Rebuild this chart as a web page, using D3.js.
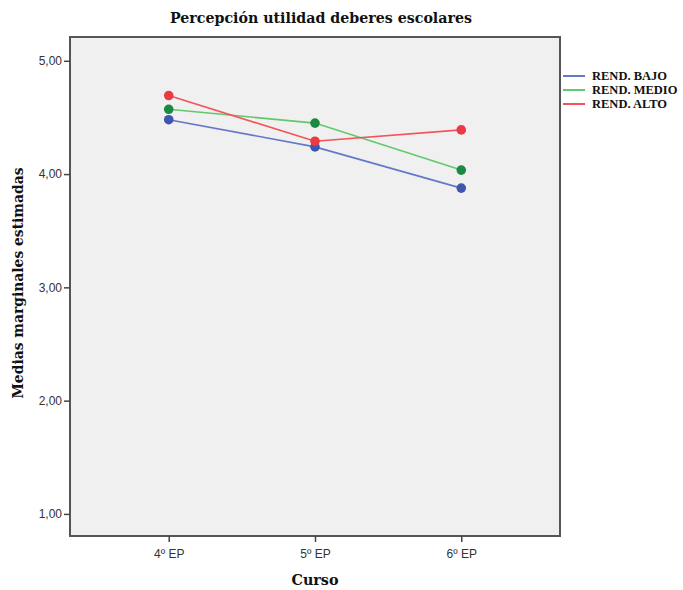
<!DOCTYPE html>
<html><head><meta charset="utf-8">
<script src="https://cdn.jsdelivr.net/npm/d3@7"></script>
<style>body{margin:0;background:#fff;}svg{display:block;}</style>
</head><body>
<svg id="c" width="683" height="590"></svg>
<script>
const categories = ["4º EP", "5º EP", "6º EP"];
const seriesNames = ["REND. BAJO", "REND. MEDIO", "REND. ALTO"];
const bajo = [4.48, 4.24, 3.876];
const medio = [4.572, 4.45, 4.035];
const alto = [4.693, 4.29, 4.39];
const yTicks = [1, 2, 3, 4, 5];
const title = "Percepción utilidad deberes escolares";
const xTitle = "Curso";
const yTitle = "Medias marginales estimadas";

const series = [
  {name: seriesNames[0], values: bajo, line: "#6478c8", dot: "#3f56b0"},
  {name: seriesNames[1], values: medio, line: "#62c86c", dot: "#1b8a40"},
  {name: seriesNames[2], values: alto, line: "#f4535b", dot: "#ec3a43"}
];

const svg = d3.select("#c");
const L = 70, R = 560, T = 37, B = 536;
const x = d3.scalePoint().domain(categories).range([L, R]).padding(0.675);
const y = d3.scaleLinear().domain([0.805, 5.21]).range([B, T]);
const serif = "'Liberation Serif','DejaVu Serif',serif";
const wideSerif = "'DejaVu Serif',serif";
const sans = "'Liberation Sans',Arial,sans-serif";

svg.append("rect").attr("x", L).attr("y", T).attr("width", R - L).attr("height", B - T)
  .attr("fill", "#f0f0f0").attr("stroke", "#555").attr("stroke-width", 2);

const yAxis = svg.append("g").attr("transform", `translate(${L},0)`)
  .call(d3.axisLeft(y).tickValues(yTicks).tickSize(6).tickFormat(d => d3.format(".2f")(d).replace(".", ",")));
yAxis.select(".domain").remove();
yAxis.selectAll("line").attr("stroke", "#444").attr("stroke-width", 1.5);
yAxis.selectAll("text").attr("font-family", sans).attr("font-size", 12).attr("fill", "#333").attr("dx", 1);

const xAxis = svg.append("g").attr("transform", `translate(0,${B})`)
  .call(d3.axisBottom(x).tickSize(6));
xAxis.select(".domain").remove();
xAxis.selectAll("line").attr("stroke", "#444").attr("stroke-width", 1.5);
xAxis.selectAll("text").attr("font-family", sans).attr("font-size", 12).attr("fill", "#333").attr("dy", "1.1em");

const line = d3.line().x((d, i) => x(categories[i])).y(d => y(d));
series.forEach(s => {
  svg.append("path").datum(s.values).attr("d", line).attr("fill", "none")
    .attr("stroke", s.line).attr("stroke-width", 1.6);
});
series.forEach(s => {
  svg.selectAll(null).data(s.values).enter().append("circle")
    .attr("cx", (d, i) => x(categories[i])).attr("cy", d => y(d)).attr("r", 4.8)
    .attr("fill", s.dot);
});

svg.append("text").attr("x", 321).attr("y", 23).attr("text-anchor", "middle")
  .attr("font-family", wideSerif).attr("font-weight", "bold").attr("font-size", 15)
  .attr("textLength", 302).attr("lengthAdjust", "spacingAndGlyphs").attr("fill", "#111").text(title);
svg.append("text").attr("x", 315).attr("y", 585).attr("text-anchor", "middle")
  .attr("font-family", wideSerif).attr("font-weight", "bold").attr("font-size", 15)
  .attr("textLength", 47).attr("lengthAdjust", "spacingAndGlyphs").attr("fill", "#111").text(xTitle);
svg.append("text").attr("transform", "translate(23,283) rotate(-90)").attr("text-anchor", "middle")
  .attr("font-family", wideSerif).attr("font-weight", "bold").attr("font-size", 15)
  .attr("textLength", 231).attr("lengthAdjust", "spacingAndGlyphs").attr("fill", "#111").text(yTitle);

const lg = svg.append("g");
series.forEach((s, i) => {
  const yy = 76 + i * 14;
  lg.append("line").attr("x1", 563).attr("x2", 585).attr("y1", yy).attr("y2", yy)
    .attr("stroke", s.line).attr("stroke-width", 2);
  lg.append("text").attr("x", 592).attr("y", yy + 4).attr("font-family", serif)
    .attr("font-weight", "bold").attr("font-size", 12.5).attr("fill", "#111").text(s.name);
});
</script>
</body></html>
